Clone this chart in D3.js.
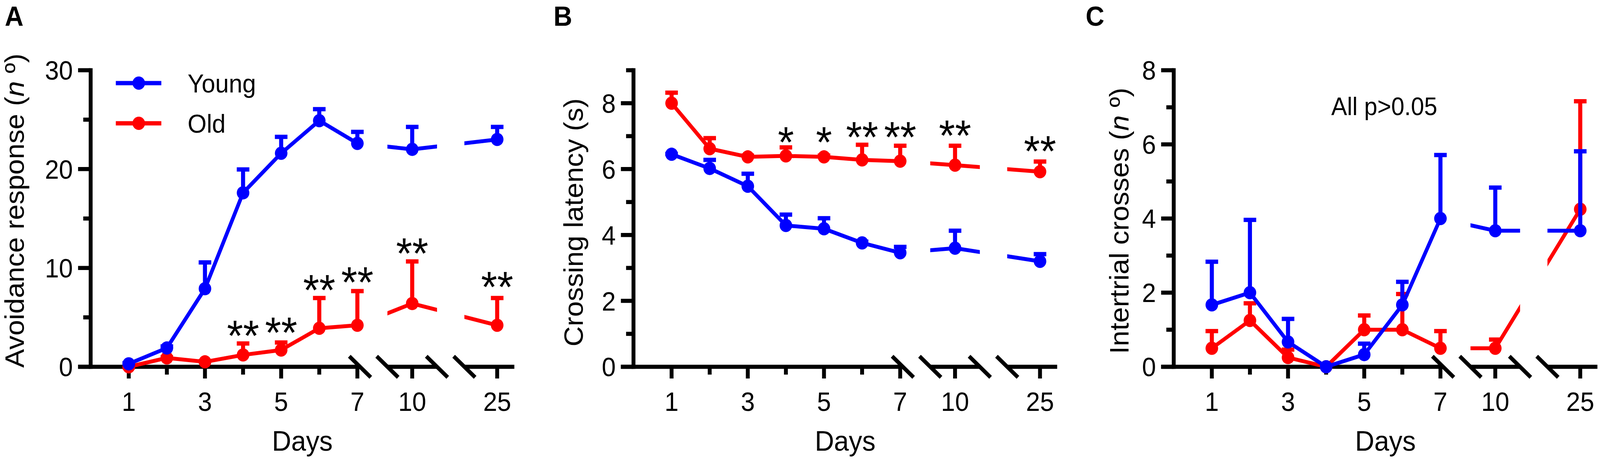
<!DOCTYPE html>
<html>
<head>
<meta charset="utf-8">
<script src="https://cdn.jsdelivr.net/npm/d3@7"></script>
<style>
  html, body { margin: 0; padding: 0; background: #ffffff; width: 100%; height: 100%; overflow: hidden; }
  svg { display: block; width: 100vw; height: 100vh; }
  text { font-family: "Liberation Sans", Arial, Helvetica, sans-serif; fill: #000; }
</style>
</head>
<body>
<svg id="chart" viewBox="0 0 4324 1184" preserveAspectRatio="none"></svg>
<script>
// ---------------- DATA ----------------
const days = [1, 2, 3, 4, 5, 6, 7, 10, 25];
const majorXTicks = [1, 3, 5, 7, 10, 25];
const minorXTicks = [2, 4, 6];
const seriesNames = ["Young", "Old"];

// Panel A: Avoidance response (n º)
const avoidYoung    = [0.3, 1.9, 7.9, 17.6, 21.6, 24.9, 22.6, 22.0, 23.0];
const avoidYoungErr = [0.2, 0.3, 2.8, 2.5, 1.8, 1.3, 1.3, 2.4, 1.4];
const avoidOld      = [0.0, 0.9, 0.5, 1.2, 1.7, 3.9, 4.2, 6.4, 4.2];
const avoidOldErr   = [0.1, 0.2, 0.2, 1.3, 0.9, 3.2, 3.6, 4.4, 2.9];
const avoidYTicks   = [0, 10, 20, 30];
const avoidYMinor   = [5, 15, 25];
const avoidStarDays = [4, 5, 6, 7, 10, 25];
const avoidStars    = ["**", "**", "**", "**", "**", "**"];
const avoidStarY    = [4.2, 4.5, 8.8, 9.6, 12.5, 9.1];

// Panel B: Crossing latency (s)
const latYoung    = [6.45, 6.02, 5.48, 4.29, 4.19, 3.76, 3.46, 3.60, 3.20];
const latYoungErr = [0.05, 0.30, 0.42, 0.37, 0.36, 0.08, 0.22, 0.57, 0.26];
const latOld      = [8.00, 6.62, 6.37, 6.40, 6.37, 6.28, 6.24, 6.12, 5.92];
const latOldErr   = [0.36, 0.36, 0.08, 0.30, 0.08, 0.50, 0.51, 0.63, 0.35];
const latYTicks   = [0, 2, 4, 6, 8];
const latYMinor   = [1, 3, 5, 7, 9];
const latStarDays = [4, 5, 6, 7, 10, 25];
const latStars    = ["*", "*", "**", "**", "**", "**"];
const latStarY    = [7.13, 7.13, 7.28, 7.28, 7.33, 6.86];

// Panel C: Intertrial crosses (n º)
const crossYoung    = [1.67, 2.00, 0.67, 0.00, 0.33, 1.67, 4.00, 3.67, 3.67];
const crossYoungErr = [1.20, 2.00, 0.66, 0.00, 0.33, 0.66, 1.75, 1.20, 2.18];
const crossOld      = [0.50, 1.25, 0.25, 0.00, 1.00, 1.00, 0.50, 0.50, 4.25];
const crossOldErr   = [0.50, 0.50, 0.25, 0.00, 0.42, 1.00, 0.50, 0.27, 2.95];
const crossYTicks   = [0, 2, 4, 6, 8];
const crossYMinor   = [1, 3, 5, 7];
const crossNote     = "All p>0.05";

// ---------------- LAYOUT / STYLE ----------------
const W = 4324, H = 1184;
const BLUE = "#0000ff", RED = "#ff0000";
const Y0 = 940, YTOP = 180;
const AXW = 10.5;          // axis stroke
const LINEW = 10;          // data line stroke
const R = 17;              // marker radius
const CAPW = 34;           // error-bar cap width
const ERRW = 11;           // error-bar stem / cap stroke
const TICK_MAJ_Y = 34, TICK_MIN_Y = 20;
const TICK_MAJ_X = 30, TICK_MIN_X = 20;
const TICK_FONT = 68, TITLE_FONT = 72, STAR_FONT = 112;

// discontinuous x axis: three segments (domain in days, range offset from y axis)
const SEG = [
  { d: [0, 7.07],      r: [0, 728] },
  { d: [9.35, 10.65],  r: [802, 936] },
  { d: [24.14, 25.45], r: [1010, 1145] }
];

const svg = d3.select("#chart");
svg.append("rect").attr("width", W).attr("height", H).attr("fill", "#fff");
const defs = svg.append("defs");

function drawPanel(cfg) {
  const ax = cfg.axisX;
  const y = d3.scaleLinear().domain([0, cfg.yMax]).range([Y0, YTOP]);
  const segScales = SEG.map(s => d3.scaleLinear().domain(s.d).range([ax + s.r[0], ax + s.r[1]]));
  const x = d => {
    const i = SEG.findIndex(s => d >= s.d[0] && d <= s.d[1]);
    return segScales[i](d);
  };
  const g = svg.append("g");

  // clip path for lines (one rect per axis segment)
  const clipId = "clip-" + cfg.id;
  const cp = defs.append("clipPath").attr("id", clipId);
  SEG.forEach((s, i) => {
    const x0 = i === 0 ? ax - 60 : ax + s.r[0];
    const x1 = ax + s.r[1];
    cp.append("rect").attr("x", x0).attr("y", 0).attr("width", x1 - x0).attr("height", H);
  });

  // ---- Y axis ----
  g.append("line")
    .attr("x1", ax).attr("x2", ax)
    .attr("y1", Y0 + AXW / 2).attr("y2", y(cfg.yMax) - AXW / 2)
    .attr("stroke", "#000").attr("stroke-width", AXW);
  cfg.yTicks.forEach(v => {
    g.append("line").attr("x1", ax - TICK_MAJ_Y).attr("x2", ax)
      .attr("y1", y(v)).attr("y2", y(v)).attr("stroke", "#000").attr("stroke-width", AXW);
    g.append("text").attr("x", ax - TICK_MAJ_Y - 14).attr("y", y(v))
      .attr("dy", "0.36em").attr("text-anchor", "end")
      .attr("font-size", TICK_FONT).text(v);
  });
  cfg.yMinor.forEach(v => {
    g.append("line").attr("x1", ax - TICK_MIN_Y).attr("x2", ax)
      .attr("y1", y(v)).attr("y2", y(v)).attr("stroke", "#000").attr("stroke-width", AXW);
  });

  // ---- X axis (segmented) ----
  SEG.forEach((s, i) => {
    const x0 = i === 0 ? ax - TICK_MAJ_Y : ax + s.r[0];
    g.append("line").attr("x1", x0).attr("x2", ax + s.r[1])
      .attr("y1", Y0).attr("y2", Y0).attr("stroke", "#000").attr("stroke-width", AXW);
  });
  // break marks
  const breaks = [SEG[0].r[1], SEG[1].r[0], SEG[1].r[1], SEG[2].r[0]];
  breaks.forEach(b => {
    g.append("line").attr("x1", ax + b - 29).attr("y1", Y0 - 27)
      .attr("x2", ax + b + 29).attr("y2", Y0 + 27)
      .attr("stroke", "#000").attr("stroke-width", AXW);
  });
  majorXTicks.forEach(d => {
    g.append("line").attr("x1", x(d)).attr("x2", x(d))
      .attr("y1", Y0).attr("y2", Y0 + TICK_MAJ_X).attr("stroke", "#000").attr("stroke-width", AXW);
    g.append("text").attr("x", x(d)).attr("y", 1053).attr("text-anchor", "middle")
      .attr("font-size", TICK_FONT).text(d);
  });
  minorXTicks.forEach(d => {
    g.append("line").attr("x1", x(d)).attr("x2", x(d))
      .attr("y1", Y0).attr("y2", Y0 + TICK_MIN_X).attr("stroke", "#000").attr("stroke-width", AXW);
  });

  // ---- titles ----
  g.append("text").attr("x", ax + 572).attr("y", 1155).attr("text-anchor", "middle")
    .attr("font-size", TITLE_FONT).text("Days");
  const yt = g.append("text")
    .attr("transform", `translate(${cfg.titleX},${cfg.titleY}) rotate(-90)`)
    .attr("text-anchor", "middle").attr("font-size", TITLE_FONT);
  yt.append("tspan").text(cfg.title);
  if (cfg.titleN) {
    yt.append("tspan").attr("font-style", "italic").text("n");
    yt.append("tspan").text(" º)");
  }
  g.append("text").attr("x", cfg.labelX).attr("y", 66)
    .attr("font-size", 70).attr("font-weight", "bold").text(cfg.label);

  // ---- series (Old drawn first, Young on top) ----
  const series = [
    { name: seriesNames[1], color: RED, vals: cfg.old, errs: cfg.oldErr },
    { name: seriesNames[0], color: BLUE, vals: cfg.young, errs: cfg.youngErr }
  ];
  const lineGen = d3.line().x(d => x(d[0])).y(d => y(d[1]));
  series.forEach(s => {
    const sg = g.append("g");
    // error bars (upper)
    days.forEach((d, i) => {
      const e = s.errs[i];
      if (!(e > 0)) return;
      const top = y(s.vals[i] + e);
      sg.append("line").attr("x1", x(d)).attr("x2", x(d))
        .attr("y1", y(s.vals[i])).attr("y2", top)
        .attr("stroke", s.color).attr("stroke-width", ERRW);
      sg.append("line").attr("x1", x(d) - CAPW / 2).attr("x2", x(d) + CAPW / 2)
        .attr("y1", top + ERRW / 2 - 2).attr("y2", top + ERRW / 2 - 2)
        .attr("stroke", s.color).attr("stroke-width", ERRW);
    });
    // connecting line, clipped to axis segments
    sg.append("path")
      .attr("d", lineGen(days.map((d, i) => [d, s.vals[i]])))
      .attr("fill", "none").attr("stroke", s.color).attr("stroke-width", LINEW)
      .attr("stroke-linejoin", "round")
      .attr("clip-path", `url(#${clipId})`);
    // markers
    sg.selectAll("circle.m").data(days).enter().append("circle")
      .attr("cx", d => x(d)).attr("cy", (d, i) => y(s.vals[i])).attr("r", R)
      .attr("fill", s.color);
  });

  // ---- significance stars ----
  if (cfg.starDays) {
    cfg.starDays.forEach((d, i) => {
      g.append("text").attr("x", x(d)).attr("y", y(cfg.starY[i]) + 0.58 * STAR_FONT)
        .attr("text-anchor", "middle").attr("font-size", STAR_FONT).text(cfg.stars[i]);
    });
  }
  return { x, y, g };
}

// Panel A
const pA = drawPanel({
  id: "A", label: "A", labelX: 13, axisX: 245, yMax: 30,
  yTicks: avoidYTicks, yMinor: avoidYMinor,
  title: "Avoidance response (", titleN: true, titleX: 64, titleY: 540,
  young: avoidYoung, youngErr: avoidYoungErr, old: avoidOld, oldErr: avoidOldErr,
  starDays: avoidStarDays, stars: avoidStars, starY: avoidStarY
});

// Legend (panel A)
[{ name: seriesNames[0], color: BLUE, y: 213 }, { name: seriesNames[1], color: RED, y: 316 }].forEach(l => {
  pA.g.append("line").attr("x1", 313).attr("x2", 436).attr("y1", l.y).attr("y2", l.y)
    .attr("stroke", l.color).attr("stroke-width", 11);
  pA.g.append("circle").attr("cx", 375).attr("cy", l.y).attr("r", R).attr("fill", l.color);
  pA.g.append("text").attr("x", 507).attr("y", l.y).attr("dy", "0.36em")
    .attr("font-size", 66).text(l.name);
});

// Panel B
drawPanel({
  id: "B", label: "B", labelX: 1496, axisX: 1712, yMax: 9,
  yTicks: latYTicks, yMinor: latYMinor,
  title: "Crossing latency (s)", titleN: false, titleX: 1575, titleY: 570,
  young: latYoung, youngErr: latYoungErr, old: latOld, oldErr: latOldErr,
  starDays: latStarDays, stars: latStars, starY: latStarY
});

// Panel C
const pC = drawPanel({
  id: "C", label: "C", labelX: 2934, axisX: 3172, yMax: 8,
  yTicks: crossYTicks, yMinor: crossYMinor,
  title: "Intertrial crosses (", titleN: true, titleX: 3050, titleY: 566,
  young: crossYoung, youngErr: crossYoungErr, old: crossOld, oldErr: crossOldErr
});
pC.g.append("text").attr("x", 3741).attr("y", 272).attr("dy", "0.36em")
  .attr("text-anchor", "middle").attr("font-size", 64).text(crossNote);
</script>
</body>
</html>
